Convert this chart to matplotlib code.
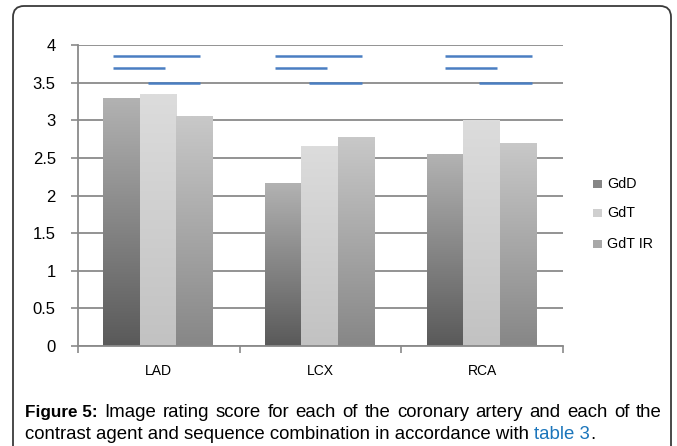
import numpy as np
import matplotlib
matplotlib.use("Agg")
import matplotlib.pyplot as plt
from matplotlib.patches import Rectangle, FancyBboxPatch
from matplotlib.transforms import IdentityTransform

# ---- data ----
categories = ["LAD", "LCX", "RCA"]
series = ["GdD", "GdT", "GdT IR"]
gdd = [3.30, 2.17, 2.55]
gdt = [3.35, 2.66, 3.00]
gdt_ir = [3.05, 2.78, 2.70]
y_ticks = [0, 0.5, 1, 1.5, 2, 2.5, 3, 3.5, 4]
y_tick_labels = ["0", "0.5", "1", "1.5", "2", "2.5", "3", "3.5", "4"]
# significance bars: (y level, start offset, end offset) per category
sig_levels = [3.86, 3.70, 3.49]
sig_spans = [
    [(-0.283, 0.255), (-0.283, 0.038), (-0.067, 0.255)],
    [(-0.282, 0.255), (-0.282, 0.038), (-0.071, 0.255)],
    [(-0.230, 0.308), (-0.230, 0.092), (-0.020, 0.308)],
]
caption_bold = "Figure 5:"
caption_1 = "Image rating score for each of the coronary artery and each of the"
caption_2 = "contrast agent and sequence combination in accordance with "
caption_link = "table 3"
caption_end = "."

# gradient colours (bottom, top)
grad = [("#5a5a5a", "#b2b2b2"), ("#c2c2c2", "#dcdcdc"), ("#878787", "#c8c8c8")]

W, H, DPI = 677, 446, 100
fig = plt.figure(figsize=(W / DPI, H / DPI), dpi=DPI)
plt.rcParams['font.family'] = ['Liberation Sans', 'DejaVu Sans']

ax = fig.add_axes([78 / W, 1 - 346 / H, (563 - 78) / W, (346 - 45) / H])
x = np.arange(len(categories))
width = 0.226
offsets = [-width - 0.005, -0.005, width - 0.005]

def hex2rgb(h):
    h = h.lstrip('#')
    return np.array([int(h[i:i + 2], 16) / 255 for i in (0, 2, 4)])

ax.set_xlim(-0.5, 2.5)
ax.set_ylim(0, 4)
ax.set_yticks(y_ticks)
ax.set_yticklabels(y_tick_labels)
ax.yaxis.grid(True, color="#8a8a8a", lw=1.3)
ax.set_axisbelow(True)

for vals, off, (c0, c1) in zip([gdd, gdt, gdt_ir], offsets, grad):
    bars = ax.bar(x + off, vals, width, color="none", edgecolor="none", zorder=2)
    b, t = hex2rgb(c0), hex2rgb(c1)
    for p in bars:
        x0, w_, h_ = p.get_x(), p.get_width(), p.get_height()
        n = 64
        f = np.linspace(0, 1, n)[:, None]
        img = (b[None, :] * (1 - f) + t[None, :] * f)[:, None, :]
        im = ax.imshow(img, extent=(x0, x0 + w_, 0, h_), origin="lower",
                       aspect="auto", zorder=2, interpolation="bilinear")
        im.set_clip_path(p)

for i, spans in enumerate(sig_spans):
    for lvl, (s, e) in zip(sig_levels, spans):
        ax.plot([i + s, i + e], [lvl, lvl], color="#4a7ec2", lw=1.8,
                solid_capstyle="butt", zorder=3)

ax.set_xlim(-0.5, 2.5)
ax.set_ylim(0, 4)
ax.set_xticks([-0.5, 0.5, 1.5, 2.5])
ax.set_xticklabels([])
ax.set_xticks(x, minor=True)
ax.set_xticklabels(categories, minor=True, fontsize=10)
ax.tick_params(axis="x", which="minor", length=0, pad=13)
ax.tick_params(axis="x", which="major", length=5, color="#8a8a8a", width=1.2)
ax.tick_params(axis="y", length=5, color="#8a8a8a", width=1.2, labelsize=12, pad=11)
for s in ["top", "right"]:
    ax.spines[s].set_visible(False)
for s in ["left", "bottom"]:
    ax.spines[s].set_color("#8a8a8a")
    ax.spines[s].set_linewidth(1.3)

# legend (manual)
leg_y = [184, 213, 244]
for name, yy, (c0, c1) in zip(series, leg_y, grad):
    mid = (hex2rgb(c0) + hex2rgb(c1)) / 2
    fig.patches.append(Rectangle((593, H - yy - 4), 9, 8, transform=IdentityTransform(),
                                 facecolor=mid, edgecolor="none"))
    fig.text(607 / W, 1 - yy / H, name, fontsize=10.3, va="center", ha="left")

# outer frame with rounded top corners
fig.patches.append(FancyBboxPatch((13, -30), 658, H - 6 + 30,
                                  boxstyle="round,pad=0,rounding_size=11",
                                  transform=IdentityTransform(), facecolor="none",
                                  edgecolor="#3a3a3a", lw=1.3))

# caption
fig.canvas.draw()
r = fig.canvas.get_renderer()
FS = 13.4
def put(xpix, ybase, s, fs=FS, **kw):
    t = fig.text(xpix / W, 1 - ybase / H, s, fontsize=fs, va="baseline", ha="left", **kw)
    bb = t.get_window_extent(renderer=r)
    return t, bb.x1

# line 1: justified between x=25 and x=662
_, xx = put(25, 417, caption_bold, fs=12.3, fontweight="bold")
words = caption_1.split(" ")
probe = [put(0, 417, w_) for w_ in words]
widths = [t.get_window_extent(renderer=r).width for t, _ in probe]
for t, _ in probe:
    t.remove()
gap = (662 - xx - sum(widths)) / len(words)
cur = xx + gap
for w_, wd in zip(words, widths):
    put(cur, 417, w_)
    cur += wd + gap

_, xx = put(25, 439, caption_2)
_, xx = put(xx, 439, caption_link, color="#1b75bb")
put(xx, 439, caption_end)

fig.savefig("out.png", dpi=DPI)
